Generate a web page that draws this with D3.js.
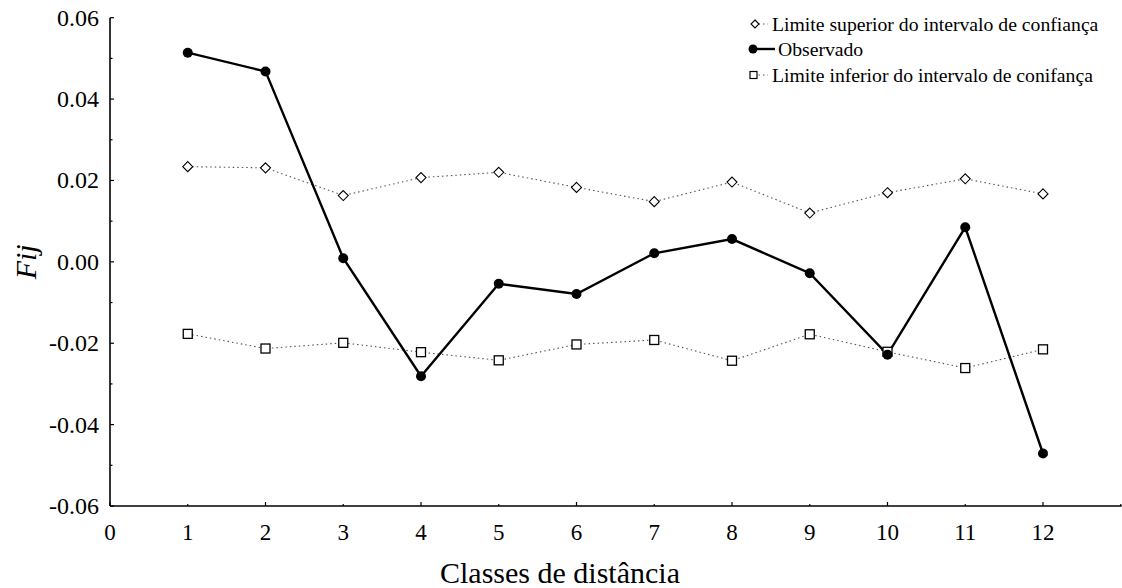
<!DOCTYPE html>
<html>
<head>
<meta charset="utf-8">
<script src="https://cdn.jsdelivr.net/npm/d3@7"></script>
<style>
  html, body { margin: 0; padding: 0; background: #fff; }
  svg { display: block; font-family: "Liberation Serif", "Times New Roman", serif; }
</style>
</head>
<body>
<svg id="chart" width="1122" height="588"></svg>
<script>
// Distance classes and correlogram values
const classes = [1, 2, 3, 4, 5, 6, 7, 8, 9, 10, 11, 12];
const observed = [0.0514, 0.0468, 0.0009, -0.0281, -0.0054, -0.0079, 0.0021, 0.0056, -0.0028, -0.0228, 0.0085, -0.0471];
const upperCI = [0.0234, 0.0231, 0.0163, 0.0207, 0.0220, 0.0183, 0.0148, 0.0196, 0.0120, 0.0170, 0.0204, 0.0167];
const lowerCI = [-0.0177, -0.0213, -0.0199, -0.0222, -0.0242, -0.0203, -0.0192, -0.0243, -0.0178, -0.0221, -0.0261, -0.0215];
const xTickValues = [0, 1, 2, 3, 4, 5, 6, 7, 8, 9, 10, 11, 12];
const yTickValues = [-0.06, -0.04, -0.02, 0.00, 0.02, 0.04, 0.06];
const legendLabels = ["Limite superior do intervalo de confiança", " Observado", "Limite inferior do intervalo de conifança"];

const svg = d3.select("#chart");
const plotLeft = 110, plotRight = 1120.75, plotTop = 17.7, plotBottom = 506;

const x = d3.scaleLinear().domain([0, 13]).range([plotLeft, plotRight]);
const y = d3.scaleLinear().domain([-0.06, 0.06]).range([plotBottom, plotTop]);

// Axes
const gx = svg.append("g").attr("transform", `translate(0,${plotBottom})`);
gx.append("line").attr("x1", plotLeft).attr("x2", plotRight + 1).attr("stroke", "#000").attr("stroke-width", 1.6);
d3.range(0, 14).forEach(v => {
  gx.append("line")
    .attr("x1", x(v)).attr("x2", x(v))
    .attr("y1", 0).attr("y2", v % 2 === 0 ? -4 : -2)
    .attr("stroke", "#000").attr("stroke-width", 1.2);
});
gx.selectAll("text.tick").data(xTickValues).join("text")
  .attr("class", "tick")
  .attr("x", d => x(d)).attr("y", 33.5)
  .attr("text-anchor", "middle")
  .attr("font-size", 23)
  .text(d => d);

const gy = svg.append("g").attr("transform", `translate(${plotLeft},0)`);
gy.append("line").attr("y1", plotTop).attr("y2", plotBottom).attr("stroke", "#000").attr("stroke-width", 1.6);
d3.range(-6, 7).forEach(k => {
  gy.append("line")
    .attr("y1", y(k / 100)).attr("y2", y(k / 100))
    .attr("x1", 0).attr("x2", k % 2 === 0 ? 4 : 2.5)
    .attr("stroke", "#000").attr("stroke-width", 1.2);
});
gy.selectAll("text.tick").data(yTickValues).join("text")
  .attr("class", "tick")
  .attr("x", -11).attr("y", d => y(d) + 8)
  .attr("text-anchor", "end")
  .attr("font-size", 24)
  .text(d => d3.format(".2f")(d).replace("\u2212", "-"));

// Axis titles
svg.append("text")
  .attr("x", 560).attr("y", 583)
  .attr("text-anchor", "middle")
  .attr("font-size", 30)
  .text("Classes de distância");

svg.append("text")
  .attr("transform", `translate(36,${y(0)}) rotate(-90)`)
  .attr("text-anchor", "middle")
  .attr("font-size", 30)
  .attr("font-style", "italic")
  .text("Fij");

// Series
const pts = vals => classes.map((c, i) => [x(c), y(vals[i])]);
const line = d3.line();

svg.append("path").attr("d", line(pts(upperCI)))
  .attr("fill", "none").attr("stroke", "#555").attr("stroke-width", 1.1).attr("stroke-dasharray", "1.5,3");
svg.append("path").attr("d", line(pts(lowerCI)))
  .attr("fill", "none").attr("stroke", "#555").attr("stroke-width", 1.1).attr("stroke-dasharray", "1.5,3");
svg.append("path").attr("d", line(pts(observed)))
  .attr("fill", "none").attr("stroke", "#000").attr("stroke-width", 2.4);

const diamond = (cx, cy, r) => `M${cx},${cy - r}L${cx + r},${cy}L${cx},${cy + r}L${cx - r},${cy}Z`;

svg.append("g").selectAll("path").data(pts(upperCI)).join("path")
  .attr("d", d => diamond(d[0], d[1], 5))
  .attr("fill", "#fff").attr("stroke", "#000").attr("stroke-width", 1.1);

svg.append("g").selectAll("rect").data(pts(lowerCI)).join("rect")
  .attr("x", d => d[0] - 4.5).attr("y", d => d[1] - 4.5)
  .attr("width", 9).attr("height", 9)
  .attr("fill", "#fff").attr("stroke", "#000").attr("stroke-width", 1.3);

svg.append("g").selectAll("circle").data(pts(observed)).join("circle")
  .attr("cx", d => d[0]).attr("cy", d => d[1]).attr("r", 5)
  .attr("fill", "#000");

// Legend
const lg = svg.append("g");
const rowY = [24, 49, 75];
// upper CI entry
lg.append("line").attr("x1", 754).attr("x2", 768).attr("y1", rowY[0]).attr("y2", rowY[0])
  .attr("stroke", "#555").attr("stroke-width", 1.1).attr("stroke-dasharray", "1.5,3");
lg.append("path").attr("d", diamond(755, rowY[0], 4))
  .attr("fill", "#fff").attr("stroke", "#000").attr("stroke-width", 1.1);
// observed entry
lg.append("line").attr("x1", 752).attr("x2", 775).attr("y1", rowY[1]).attr("y2", rowY[1])
  .attr("stroke", "#000").attr("stroke-width", 2.4);
lg.append("circle").attr("cx", 753).attr("cy", rowY[1]).attr("r", 4.5).attr("fill", "#000");
// lower CI entry
lg.append("line").attr("x1", 754).attr("x2", 768).attr("y1", rowY[2]).attr("y2", rowY[2])
  .attr("stroke", "#555").attr("stroke-width", 1.1).attr("stroke-dasharray", "1.5,3");
lg.append("rect").attr("x", 750).attr("y", rowY[2] - 3.5).attr("width", 7).attr("height", 7)
  .attr("fill", "#fff").attr("stroke", "#000").attr("stroke-width", 1.2);

lg.selectAll("text").data(legendLabels).join("text")
  .attr("x", (d, i) => i === 1 ? 773 : 772)
  .attr("y", (d, i) => rowY[i] + 6.5)
  .attr("font-size", 19.7)
  .attr("xml:space", "preserve")
  .style("white-space", "pre")
  .text(d => d);
</script>
</body>
</html>
